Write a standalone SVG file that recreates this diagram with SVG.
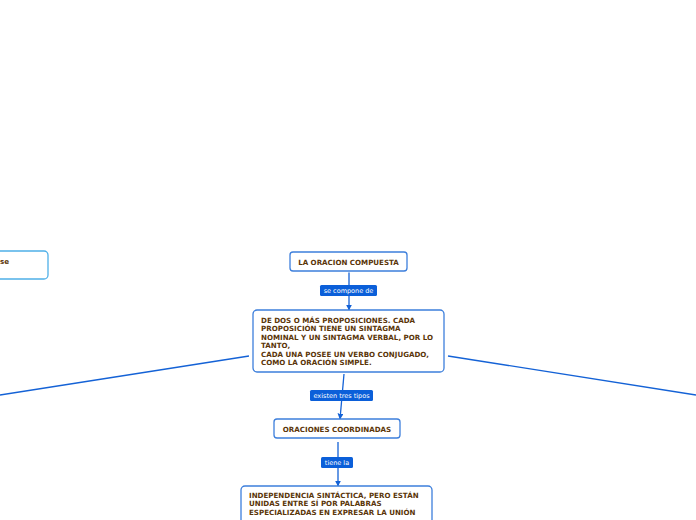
<svg xmlns="http://www.w3.org/2000/svg" width="696" height="520" viewBox="0 0 696 520">
<style>
.node rect{fill:#fff;stroke:#3d7fdc;stroke-width:1.3}
.shadow{fill:#9aa4b0;opacity:0.45}
.nt{font-family:"DejaVu Sans",Verdana,sans-serif;font-weight:bold;font-size:7.1px;fill:#5a3508}
.conn line{stroke:#1462d6;stroke-width:1.3;fill:none}
.lbl rect{fill:#0b5fd9}
.lt{font-family:"DejaVu Sans",Verdana,sans-serif;font-size:6.5px;fill:#fff}
</style>
<defs>
<marker id="ah" viewBox="0 0 10 10" refX="9" refY="5" markerWidth="6" markerHeight="6" orient="auto" markerUnits="userSpaceOnUse">
<path d="M0,0 L10,5 L0,10 z" fill="#1462d6"/>
</marker>
</defs>
<rect width="696" height="520" fill="#fff"/>
<g id="connectors" class="conn">
<line x1="349" y1="272" x2="349" y2="310" marker-end="url(#ah)"/>
<line x1="249" y1="356" x2="0" y2="395"/>
<line x1="448" y1="356" x2="696" y2="395"/>
<line x1="344" y1="374" x2="340" y2="419" marker-end="url(#ah)"/>
<line x1="338" y1="442" x2="338" y2="486" marker-end="url(#ah)"/>
</g>
<g id="labels">
<g class="lbl" id="lbl1"><rect x="320" y="285" width="57" height="11" rx="1.5"/><text class="lt" x="348.5" y="292.7" text-anchor="middle">se compone de</text></g>
<g class="lbl" id="lbl2"><rect x="310" y="390" width="63" height="11" rx="1.5"/><text class="lt" x="341.5" y="397.7" text-anchor="middle">existen tres tipos</text></g>
<g class="lbl" id="lbl3"><rect x="321" y="457" width="32" height="11" rx="1.5"/><text class="lt" x="337" y="464.7" text-anchor="middle">tiene la</text></g>
</g>
<g id="node-left" class="node">
<rect class="shadow" x="-10" y="253" width="59" height="28" rx="4" style="stroke:none"/>
<rect x="-10" y="251" width="58" height="28" rx="4" style="stroke:#4fb0e8"/>
<text class="nt" x="0" y="263.5">se</text>
</g>
<g id="node-main" class="node">
<rect class="shadow" x="291" y="254" width="117" height="19" rx="3" style="stroke:none"/>
<rect x="290" y="252" width="117" height="19" rx="3"/>
<text class="nt" x="348.5" y="264.5" text-anchor="middle">LA ORACION COMPUESTA</text>
</g>
<g id="node-def" class="node">
<rect class="shadow" x="254" y="312" width="191" height="62" rx="4" style="stroke:none"/>
<rect x="253" y="310" width="191" height="62" rx="4"/>
<text class="nt"><tspan x="261" y="322.5">DE DOS O MÁS PROPOSICIONES. CADA</tspan><tspan x="261" y="331">PROPOSICIÓN TIENE UN SINTAGMA</tspan><tspan x="261" y="339.5">NOMINAL Y UN SINTAGMA VERBAL, POR LO</tspan><tspan x="261" y="348">TANTO,</tspan><tspan x="261" y="356.5">CADA UNA POSEE UN VERBO CONJUGADO,</tspan><tspan x="261" y="365">COMO LA ORACIÓN SIMPLE.</tspan></text>
</g>
<g id="node-coord" class="node">
<rect class="shadow" x="275" y="421" width="126" height="19" rx="3" style="stroke:none"/>
<rect x="274" y="419" width="126" height="19" rx="3"/>
<text class="nt" x="337" y="431.5" text-anchor="middle">ORACIONES COORDINADAS</text>
</g>
<g id="node-indep" class="node">
<rect class="shadow" x="242" y="488" width="191" height="40" rx="4" style="stroke:none"/>
<rect x="241" y="486" width="191" height="40" rx="4"/>
<text class="nt"><tspan x="249" y="497.5">INDEPENDENCIA SINTÁCTICA, PERO ESTÁN</tspan><tspan x="249" y="506">UNIDAS ENTRE SÍ POR PALABRAS</tspan><tspan x="249" y="514.5">ESPECIALIZADAS EN EXPRESAR LA UNIÓN</tspan></text>
</g>
</svg>
